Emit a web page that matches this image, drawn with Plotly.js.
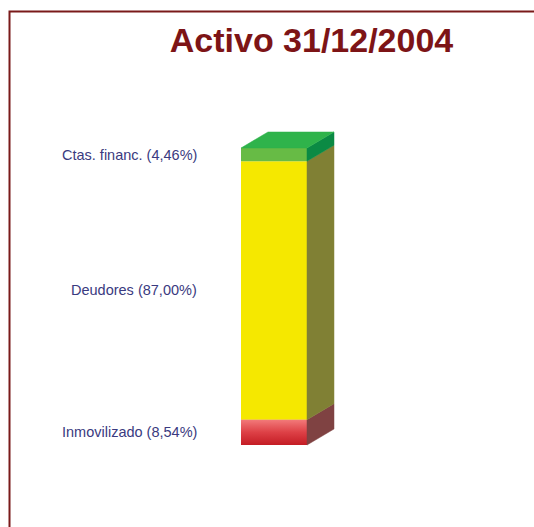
<!DOCTYPE html>
<html>
<head>
<meta charset="utf-8">
<script src="https://cdn.plot.ly/plotly-3.0.1.min.js"></script>
<style>html,body{margin:0;padding:0;background:#fff;}#chart{width:534px;height:527px;}</style>
</head>
<body>
<div id="chart"></div>
<script>
// Data
const categories = ['Inmovilizado', 'Deudores', 'Ctas. financ.'];
const values = [8.54, 87.00, 4.46];
const titleText = 'Activo 31/12/2004';

// Styles
const frontColors = ['#d63a40', '#f5e800', '#67bb45'];
const sideColors = ['#7f4242', '#808034', '#0b8a44'];
const topColor = '#2fb34b';
const dx = 0.409, dy = 5.39;

const bases = [];
let acc = 0;
values.forEach(v => { bases.push(acc); acc += v; });
const total = acc;

const fmt = v => v.toFixed(2).replace('.', ',');

const traces = [];
// front faces as bars
values.forEach((v, i) => {
  traces.push({
    type: 'bar', x: [0], y: [v], base: [bases[i]], width: [1],
    marker: {color: frontColors[i], line: {width: 0}},
    hoverinfo: 'skip', showlegend: false
  });
});
// gradient overlay on the bottom (red) segment
traces.push({
  type: 'scatter', mode: 'lines',
  x: [-0.5, 0.5, 0.5, -0.5, -0.5],
  y: [bases[0], bases[0], bases[0] + values[0], bases[0] + values[0], bases[0]],
  fill: 'toself', line: {width: 0},
  fillgradient: {type: 'vertical', colorscale: [[0, '#c41c24'], [0.5, '#dd4046'], [1, '#f27a7a']]},
  hoverinfo: 'skip', showlegend: false
});
// side faces
values.forEach((v, i) => {
  const b = bases[i], t = bases[i] + v;
  traces.push({
    type: 'scatter', mode: 'lines',
    x: [0.5, 0.5 + dx, 0.5 + dx, 0.5, 0.5],
    y: [b, b + dy, t + dy, t, b],
    fill: 'toself', fillcolor: sideColors[i],
    line: {width: 0.5, color: sideColors[i]},
    hoverinfo: 'skip', showlegend: false
  });
});
// top face
traces.push({
  type: 'scatter', mode: 'lines',
  x: [-0.5, -0.5 + dx, 0.5 + dx, 0.5, -0.5],
  y: [total, total + dy, total + dy, total, total],
  fill: 'toself', fillcolor: topColor,
  line: {width: 0.5, color: topColor},
  hoverinfo: 'skip', showlegend: false
});

const annotations = categories.map((c, i) => ({
  x: -1.135, y: bases[i] + values[i] / 2, xref: 'x', yref: 'y',
  text: c + ' (' + fmt(values[i]) + '%)', showarrow: false,
  xanchor: 'right', yanchor: 'middle',
  font: {family: 'Liberation Sans, Arial, sans-serif', size: 14.5, color: '#3a3a80'}
}));

const layout = {
  width: 534, height: 527,
  margin: {l: 0, r: 0, t: 100, b: 47},
  paper_bgcolor: '#fff', plot_bgcolor: '#fff',
  barmode: 'overlay', showlegend: false,
  title: {
    text: '<b>' + titleText + '</b>',
    x: 311.5 / 534, xanchor: 'center', xref: 'paper',
    y: 1 - 40 / 527, yanchor: 'middle', yref: 'container',
    font: {family: 'Liberation Sans, Arial, sans-serif', size: 34, color: '#7d1416'}
  },
  xaxis: {range: [-4.1515, 3.9394], showgrid: false, zeroline: false, showticklabels: false, showline: false, fixedrange: true},
  yaxis: {range: [-11.78, 116.16], showgrid: false, zeroline: false, showticklabels: false, showline: false, fixedrange: true},
  annotations: annotations,
  shapes: [{
    type: 'path', xref: 'paper', yref: 'paper',
    path: 'M 0.0178 -0.2 L 0.0178 1.2329 L 1.05 1.2329',
    line: {color: '#7a1a1a', width: 2}
  }]
};

Plotly.newPlot('chart', traces, layout, {displayModeBar: false, staticPlot: true});
</script>
</body>
</html>
